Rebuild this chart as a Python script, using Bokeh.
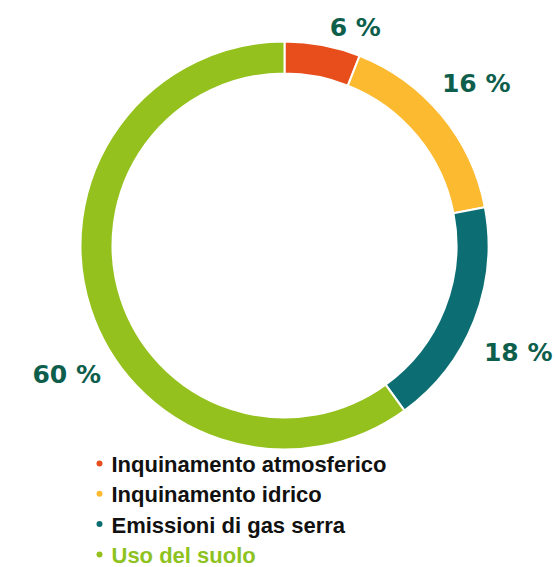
import math
from bokeh.plotting import figure
from bokeh.models import Range1d, ColumnDataSource
from bokeh.core.properties import value
from bokeh.embed import file_html
from bokeh.resources import INLINE

# ---- data ----
categories = ["Inquinamento atmosferico", "Inquinamento idrico",
              "Emissioni di gas serra", "Uso del suolo"]
shares = [6, 16, 18, 60]
labels = ["6 %", "16 %", "18 %", "60 %"]
colors = ["#e84e1b", "#fbba2f", "#0c6e73", "#95c11f"]
legend_text_colors = ["#111111", "#111111", "#111111", "#8dc21f"]

# ---- layout (pixels, picture coords) ----
W, H = 555, 567
CX, CY = 284, 245
R_OUT, R_IN = 204, 172
label_radius = [229, 251, 257, 253]
label_angle_shift = [7.2, -0.6, 3.0, -12.6]  # degrees, clockwise from mid-angle
LEG_X_BULLET, LEG_X_TEXT = 99, 111
LEG_TEXT_Y0, LEG_BULLET_Y0, LEG_DY = 464, 463, 30.3

p = figure(width=W, height=H, output_backend="svg", toolbar_location=None,
           x_range=Range1d(0, W), y_range=Range1d(-H, 0),
           min_border=0)
p.axis.visible = False
p.grid.visible = False
p.outline_line_color = None
p.background_fill_color = "white"
p.border_fill_color = "white"

total = float(sum(shares))
starts, ends, mids = [], [], []
acc = 0.0
for s in shares:
    f0 = acc / total
    acc += s
    f1 = acc / total
    # clockwise from the top
    starts.append(math.pi / 2 - 2 * math.pi * f1)
    ends.append(math.pi / 2 - 2 * math.pi * f0)
    mids.append((f0 + f1) / 2 * 360.0)

src = ColumnDataSource(dict(x=[CX] * len(shares), y=[-CY] * len(shares),
                            start=starts, end=ends, color=colors))
p.annular_wedge(x="x", y="y", inner_radius=R_IN, outer_radius=R_OUT,
                start_angle="start", end_angle="end", fill_color="color",
                line_color="white", line_width=2, source=src)

# percentage labels
lx, ly = [], []
for m, r, d in zip(mids, label_radius, label_angle_shift):
    a = math.radians(m + d)
    lx.append(CX + r * math.sin(a))
    ly.append(-(CY - r * math.cos(a)))
p.text(x=lx, y=ly, text=labels, text_align="center", text_baseline="middle",
       text_font=value("DejaVu Sans"), text_font_style="bold", text_font_size="25px",
       text_color="#0e5e4c")

# legend
n = len(categories)
p.scatter(x=[LEG_X_BULLET] * n,
          y=[-(LEG_BULLET_Y0 + i * LEG_DY) for i in range(n)], size=6,
          marker="circle", fill_color=colors, line_color=None)
p.text(x=[LEG_X_TEXT] * n, y=[-(LEG_TEXT_Y0 + i * LEG_DY) for i in range(n)],
       text=categories, text_align="left", text_baseline="middle",
       text_font=value("Liberation Sans"), text_font_style="bold",
       text_font_size="22px", text_color=legend_text_colors)

open("out.html", "w").write(file_html(p, INLINE))
